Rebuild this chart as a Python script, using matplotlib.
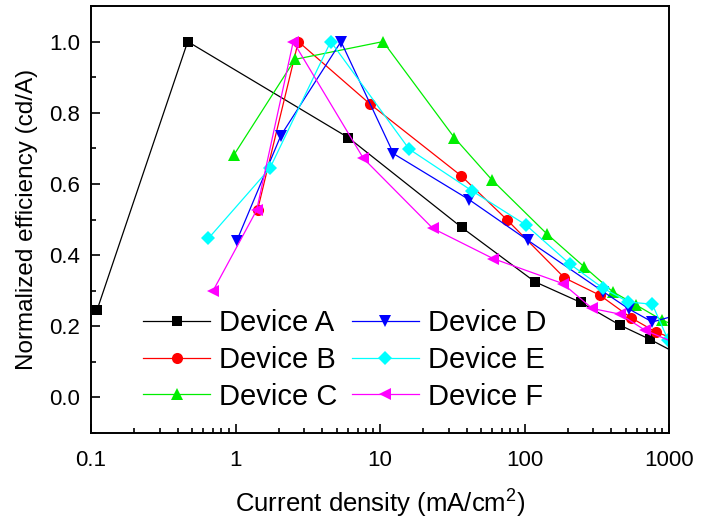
import matplotlib
matplotlib.use("Agg")
import matplotlib.pyplot as plt
from matplotlib.ticker import FixedLocator, MultipleLocator, LogLocator, NullFormatter

plt.rcParams['font.family'] = ['Liberation Sans', 'DejaVu Sans']
plt.rcParams['mathtext.fontset'] = 'custom'
plt.rcParams['mathtext.rm'] = 'Liberation Sans'
plt.rcParams['mathtext.default'] = 'regular'

x_a = [0.11, 0.467, 6.04, 36.7, 118, 245, 458, 740, 1150]
y_a = [0.245, 1.0, 0.73, 0.478, 0.325, 0.267, 0.203, 0.163, 0.122]
x_b = [1.42, 2.72, 8.5, 36.4, 75.3, 189, 333, 546, 809, 1100]
y_b = [0.526, 1.0, 0.825, 0.623, 0.50, 0.336, 0.287, 0.224, 0.184, 0.164]
x_c = [0.97, 2.58, 10.5, 32.7, 59.3, 142.5, 259, 408, 591, 889, 1100]
y_c = [0.68, 0.95, 1.0, 0.73, 0.612, 0.46, 0.367, 0.297, 0.26, 0.218, 0.202]
x_d = [1.02, 2.06, 5.37, 12.4, 41.3, 105, 351, 531, 766, 1150]
y_d = [0.44, 0.736, 1.0, 0.685, 0.556, 0.442, 0.297, 0.248, 0.212, 0.232]
x_e = [0.65, 1.73, 4.56, 15.9, 43.5, 102, 206, 347, 523, 766, 990]
y_e = [0.447, 0.644, 1.0, 0.698, 0.58, 0.485, 0.375, 0.308, 0.268, 0.262, 0.16]
x_f = [0.70, 1.40, 2.51, 7.67, 23.2, 60.8, 184, 294, 458, 682, 1100]
y_f = [0.30, 0.526, 1.0, 0.672, 0.475, 0.39, 0.32, 0.25, 0.234, 0.189, 0.153]

labels = ["Device A", "Device B", "Device C", "Device D", "Device E", "Device F"]
xs = [x_a, x_b, x_c, x_d, x_e, x_f]
ys = [y_a, y_b, y_c, y_d, y_e, y_f]
colors = ["#000000", "#ff0000", "#00ee00", "#0000ff", "#00ffff", "#ff00ff"]
markers = ["s", "o", "^", "v", "D", "<"]
sizes = [7, 8, 8.5, 8.5, 7, 8.5]

xticks = [0.1, 1, 10, 100, 1000]
xticklabels = ["0.1", "1", "10", "100", "1000"]

fig = plt.figure(figsize=(7.01, 5.27), dpi=100)
ax = fig.add_axes([91/701, 1-433/527, 578/701, 427/527])

for x, y, c, m, s, lab in zip(xs, ys, colors, markers, sizes, labels):
    ax.plot(x, y, color=c, marker=m, markersize=s, markeredgewidth=0,
            linewidth=0.9, label=lab)

ax.set_xscale("log")
ax.set_xlim(0.1, 1000)
ax.set_ylim(-0.1, 1.1)
ax.xaxis.set_major_locator(FixedLocator(xticks))
ax.set_xticklabels(xticklabels)
ax.xaxis.set_minor_locator(LogLocator(base=10, subs=range(2, 10)))
ax.xaxis.set_minor_formatter(NullFormatter())
ax.yaxis.set_major_locator(MultipleLocator(0.2))
ax.yaxis.set_minor_locator(MultipleLocator(0.1))
ax.yaxis.set_major_formatter(plt.FuncFormatter(lambda v, p: "%.1f" % v))

ax.tick_params(which="both", direction="in", top=False, right=False,
               labelsize=16, width=1.2)
ax.tick_params(which="major", length=6.5, pad=8)
ax.tick_params(axis="x", which="major", pad=12)
ax.tick_params(which="minor", length=3.5)
for sp in ax.spines.values():
    sp.set_linewidth(1.4)

ax.set_xlabel("Current density (mA/cm$^2$)", fontsize=18.5, labelpad=12)
ax.set_ylabel("Normalized efficiency (cd/A)", fontsize=17.5, labelpad=8)

ax.legend(ncol=2, frameon=False, fontsize=21, loc="upper left",
          bbox_to_anchor=(0.09, 0.29), borderpad=0, borderaxespad=0,
          handlelength=2.3, handletextpad=0.3, columnspacing=0.5,
          labelspacing=0.3, markerscale=1.0)

fig.savefig("out.png", dpi=100)
